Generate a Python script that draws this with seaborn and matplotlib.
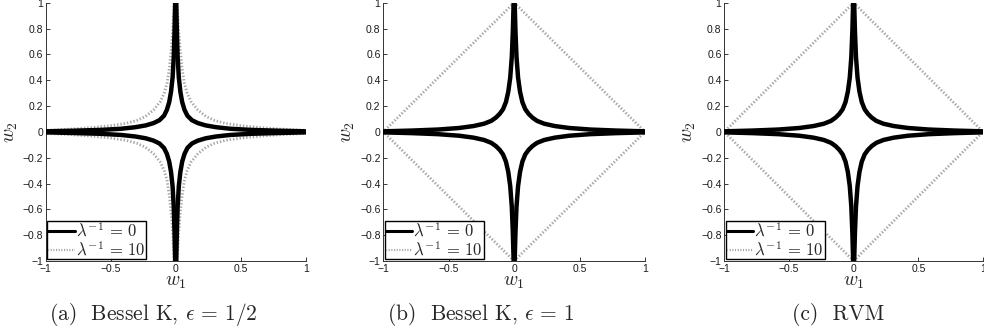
import matplotlib
matplotlib.use("Agg")
import matplotlib.pyplot as plt
from matplotlib.lines import Line2D
import seaborn as sns

# first-quadrant points; the other quadrants are the mirror images
star_a_w1 = [0.004, 0.009, 0.015, 0.024, 0.036, 0.05, 0.068, 0.09, 0.125, 0.17, 0.23, 0.31, 0.42, 0.58, 0.78, 1.0]
star_a_w2 = [1.0, 0.78, 0.58, 0.42, 0.31, 0.23, 0.17, 0.125, 0.09, 0.068, 0.05, 0.036, 0.024, 0.015, 0.009, 0.004]
wide_a_w1 = [0.012, 0.022, 0.034, 0.048, 0.066, 0.088, 0.118, 0.17, 0.235, 0.30, 0.38, 0.50, 0.64, 0.80, 1.0]
wide_a_w2 = [1.0, 0.80, 0.64, 0.50, 0.38, 0.30, 0.235, 0.17, 0.118, 0.088, 0.066, 0.048, 0.034, 0.022, 0.012]

star_b_w1 = [0.004, 0.010, 0.018, 0.03, 0.045, 0.063, 0.085, 0.11, 0.14, 0.175, 0.23, 0.31, 0.42, 0.58, 0.78, 1.0]
star_b_w2 = [1.0, 0.78, 0.58, 0.42, 0.31, 0.23, 0.175, 0.14, 0.11, 0.085, 0.063, 0.045, 0.03, 0.018, 0.010, 0.004]
diamond_b_w1 = [0.0, 1.0]
diamond_b_w2 = [1.0, 0.0]

star_c_w1 = [0.004, 0.010, 0.018, 0.03, 0.045, 0.063, 0.085, 0.11, 0.14, 0.175, 0.23, 0.31, 0.42, 0.58, 0.78, 1.0]
star_c_w2 = [1.0, 0.78, 0.58, 0.42, 0.31, 0.23, 0.175, 0.14, 0.11, 0.085, 0.063, 0.045, 0.03, 0.018, 0.010, 0.004]
diamond_c_w1 = [0.0, 1.0]
diamond_c_w2 = [1.0, 0.0]

panels = [
    ("(a)  Bessel K, $\\epsilon\\,=\\,1/2$", star_a_w1, star_a_w2, wide_a_w1, wide_a_w2),
    ("(b)  Bessel K, $\\epsilon\\,=\\,1$", star_b_w1, star_b_w2, diamond_b_w1, diamond_b_w2),
    ("(c)  RVM", star_c_w1, star_c_w2, diamond_c_w1, diamond_c_w2),
]
legend_labels = ["$\\lambda^{-1}\\,=\\,0$", "$\\lambda^{-1}\\,=\\,10$"]
x_ticks = [-1, -0.5, 0, 0.5, 1]
y_ticks = [-1, -0.8, -0.6, -0.4, -0.2, 0, 0.2, 0.4, 0.6, 0.8, 1]

sns.set_style("ticks")
plt.rcParams["font.family"] = ["Liberation Sans", "DejaVu Sans"]
plt.rcParams["mathtext.fontset"] = "cm"
plt.rcParams["xtick.direction"] = "in"
plt.rcParams["ytick.direction"] = "in"

fig = plt.figure(figsize=(9.84, 3.33), dpi=100)

# axes boxes in pixels (left, right), shared top/bottom
boxes = [(45.7, 305.7), (383.3, 645.0), (724.3, 983.0)]
caption_x = [153, 481, 838.5]
top_px, bottom_px = 2.7, 261.0

black = "black"
grey = "0.65"
dots = (0, (0.5, 0.7))

for (caption, s_w1, s_w2, d_w1, d_w2), (l, r), cx in zip(panels, boxes, caption_x):
    ax = fig.add_axes([l / 984, 1 - bottom_px / 333, (r - l) / 984, (bottom_px - top_px) / 333])
    for sx in (1, -1):
        for sy in (1, -1):
            sns.lineplot(x=[sx * v for v in d_w1], y=[sy * v for v in d_w2], ax=ax,
                         sort=False, estimator=None, color=grey, lw=2.0,
                         linestyle=dots, zorder=2)
            sns.lineplot(x=[sx * v for v in s_w1], y=[sy * v for v in s_w2], ax=ax,
                         sort=False, estimator=None, color=black, lw=3.2, zorder=3)

    ax.set_xlim(-1, 1)
    ax.set_ylim(-1, 1)
    ax.set_xticks(x_ticks)
    ax.set_xticklabels(["\u22121", "\u22120.5", "0", "0.5", "1"])
    ax.set_yticks(y_ticks)
    ax.set_yticklabels([f"{t:g}".replace("-", "\u2212") for t in y_ticks])
    ax.tick_params(labelsize=7.5, length=3, width=0.6, pad=2, colors="0.1")
    sns.despine(ax=ax)
    for side in ("left", "bottom"):
        ax.spines[side].set_linewidth(0.7)
        ax.spines[side].set_color("0.2")

    ax.set_xlabel("$w_1$", fontsize=14)
    ax.set_ylabel("$w_2$", fontsize=14)
    ax.xaxis.set_label_coords(0.5, -0.05)
    ax.yaxis.set_label_coords(-0.1, 0.5)

    handles = [Line2D([], [], color=black, lw=2.2),
               Line2D([], [], color=grey, lw=1.6, linestyle=dots)]
    leg = ax.legend(handles, legend_labels, loc="lower left", fontsize=12,
                    frameon=True, fancybox=False, framealpha=1, borderaxespad=0.1,
                    borderpad=0.05, labelspacing=0.0, handlelength=1.6,
                    handletextpad=0.05)
    leg.get_frame().set_edgecolor("black")
    leg.get_frame().set_linewidth(1.0)

    fig.text(cx / 984, 1 - 315 / 333, caption, ha="center", va="center",
             fontsize=15.5, family="cmr10")

fig.savefig("out.png", dpi=100)
